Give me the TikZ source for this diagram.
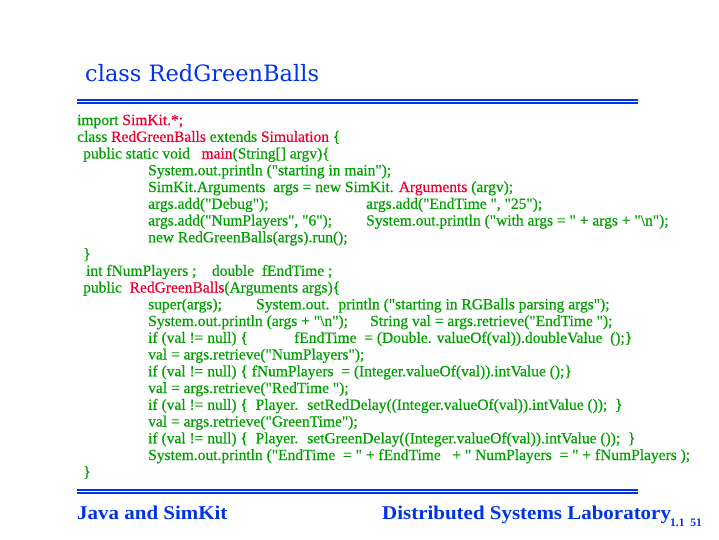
\documentclass[tikz,border=0pt]{standalone}
\usepackage{fontspec}
\setmainfont{Liberation Serif}
\newfontfamily\codefont{Liberation Serif}[FakeBold=0.5]
\newfontfamily\titlefont{DejaVu Serif}
\newfontfamily\footfont{Liberation Serif}[FakeStretch=1.075]
\newfontfamily\pagefont{Liberation Serif}
\definecolor{slblue}{RGB}{0,51,230}
\definecolor{codegreen}{RGB}{0,160,0}
\definecolor{codered}{RGB}{235,0,50}
\newcommand{\rd}[1]{\textcolor{codered}{#1}}
\begin{document}
\begin{tikzpicture}[x=1pt,y=-1pt,
  codeline/.style={anchor=base west,inner sep=0pt,text=codegreen,font=\codefont\fontsize{15.5}{17}\selectfont},
  titletext/.style={anchor=base west,inner sep=0pt,text=slblue,font=\titlefont\fontsize{22.5}{26}\selectfont},
  foottext/.style={anchor=base west,inner sep=0pt,text=slblue,font=\footfont\bfseries\fontsize{19.5}{22}\selectfont},
  pagetext/.style={anchor=base west,inner sep=0pt,text=slblue,font=\pagefont\bfseries\fontsize{11.5}{13}\selectfont},
  rule/.style={draw=slblue,line width=1.2pt}]
\useasboundingbox[fill=white] (0,0) rectangle (719,539);
% title and rules
\node[titletext] (title) at (85,81) {class RedGreenBalls};
\draw[rule] (77,100) -- (638,100);
\draw[rule] (77,103) -- (638,103);
\draw[rule] (77,490) -- (638,490);
\draw[rule] (77,493) -- (638,493);
% code
\node[codeline] (l0) at (77,125) {import \rd{SimKit.*;}};
\node[codeline] (l1) at (77,141.75) {class \rd{RedGreenBalls} extends \rd{Simulation} \{};
\node[codeline] (l2) at (83,158.5) {public static void \ \ \rd{main}(String[] argv)\{};
\node[codeline] (l3) at (148,175.25) {System.out.println ("starting in main");};
\node[codeline] (l4) at (148,192) {SimKit.Arguments \ args = new SimKit. \rd{Arguments} (argv);};
\node[codeline] (l5a) at (148,208.75) {args.add("Debug");};
\node[codeline] (l5b) at (366,208.75) {args.add("EndTime ", "25");};
\node[codeline] (l6a) at (148,225.5) {args.add("NumPlayers", "6");};
\node[codeline] (l6b) at (366,225.5) {System.out.println ("with args = " + args + "\textbackslash n");};
\node[codeline] (l7) at (148,242.25) {new RedGreenBalls(args).run();};
\node[codeline] (l8) at (83,259) {\}};
\node[codeline] (l9) at (86,275.75) {int fNumPlayers ; \ \ \ double \ fEndTime ;};
\node[codeline] (l10) at (83,292.5) {public \ \rd{RedGreenBalls}(Arguments args)\{};
\node[codeline] (l11a) at (148,309.25) {super(args);};
\node[codeline] (l11b) at (256,309.25) {System.out. \ println ("starting in RGBalls parsing args");};
\node[codeline] (l12a) at (148,326) {System.out.println (args + "\textbackslash n");};
\node[codeline] (l12b) at (370,326) {String val = args.retrieve("EndTime ");};
\node[codeline] (l13a) at (148,342.75) {if (val != null) \{};
\node[codeline] (l13b) at (294,342.75) {fEndTime \ = (Double. valueOf(val)).doubleValue \ ();\}};
\node[codeline] (l14) at (148,359.5) {val = args.retrieve("NumPlayers");};
\node[codeline] (l15) at (148,376.25) {if (val != null) \{ fNumPlayers \ = (Integer.valueOf(val)).intValue ();\}};
\node[codeline] (l16) at (148,393) {val = args.retrieve("RedTime ");};
\node[codeline] (l17) at (148,409.75) {if (val != null) \{ \ Player. \ setRedDelay((Integer.valueOf(val)).intValue ()); \ \}};
\node[codeline] (l18) at (148,426.5) {val = args.retrieve("GreenTime");};
\node[codeline] (l19) at (148,443.25) {if (val != null) \{ \ Player. \ setGreenDelay((Integer.valueOf(val)).intValue ()); \ \}};
\node[codeline] (l20) at (148,460) {System.out.println ("EndTime \ = " + fEndTime \ \ + " NumPlayers \ = " + fNumPlayers );};
\node[codeline] (l21) at (83,476.75) {\}};
% footer
\node[foottext] (foot1) at (77,519) {Java and SimKit};
\node[foottext] (foot2) at (382,519) {Distributed Systems Laboratory};
\node[pagetext] (page) at (670,526) {1.1 \ 51};
\end{tikzpicture}
\end{document}
